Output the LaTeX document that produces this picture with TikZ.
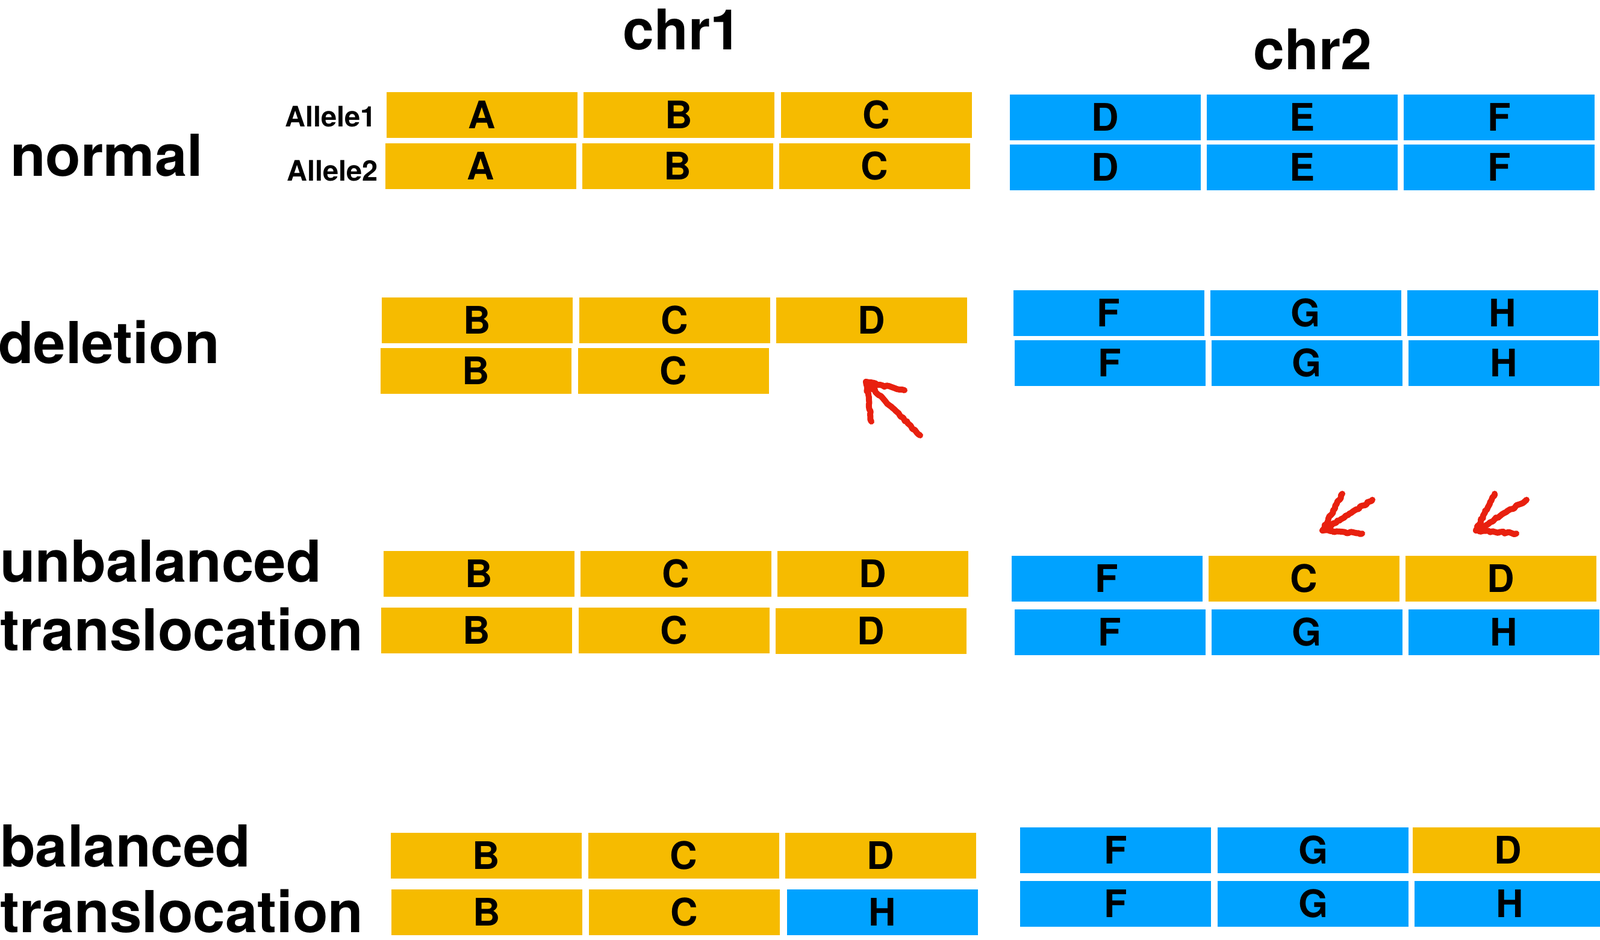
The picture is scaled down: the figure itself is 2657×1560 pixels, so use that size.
\documentclass[tikz,border=0pt]{standalone}
\usepackage{fontspec}
\setmainfont{TeX Gyre Heros}
\usetikzlibrary{decorations.pathmorphing}
\definecolor{chrY}{RGB}{246,187,0}
\definecolor{chrB}{RGB}{0,162,255}
\definecolor{mark}{RGB}{232,32,15}
\begin{document}
\begin{tikzpicture}[x=1pt,y=-1pt,
  seg/.style={minimum width=317pt,minimum height=76pt,inner sep=0pt,outer sep=0pt,
    font=\fontsize{63}{63}\selectfont\bfseries},
  yel/.style={seg,fill=chrY},
  blu/.style={seg,fill=chrB},
  rowlab/.style={anchor=base west,inner sep=0pt,font=\fontsize{96}{96}\selectfont\bfseries},
  chrlab/.style={anchor=base,inner sep=0pt,font=\fontsize{93}{93}\selectfont\bfseries},
  allab/.style={anchor=base east,inner sep=0pt,font=\fontsize{47}{47}\selectfont\bfseries},
  sketch/.style={draw=mark,line width=10pt,line cap=round,line join=round,
    decorate,decoration={random steps,segment length=4pt,amplitude=1.5pt}}]
\useasboundingbox (0,0) rectangle (2657,1560);
\clip (0,0) rectangle (2657,1560);

% headers
\node[chrlab] (chr1) at (1133,83) {chr1};
\node[chrlab] (chr2) at (2180,116) {chr2};

% row labels
\node[rowlab] (lnormal) at (17,292) {normal};
\node[rowlab] (ldel) at (-3,603) {deletion};
\node[rowlab] (lunb1) at (0,966) {unbalanced};
\node[rowlab] (lunb2) at (0,1080) {translocation};
\node[rowlab] (lbal1) at (0,1439) {balanced};
\node[rowlab] (lbal2) at (0,1548) {translocation};

\node[allab] (al1) at (625,210) {Allele1};
\node[allab] (al2) at (628,300) {Allele2};

% normal
\node[yel] (n1a) at (800.5,191) {A};
\node[yel] (n1b) at (1127.5,191) {B};
\node[yel] (n1c) at (1455,191) {C};
\node[yel] (n2a) at (798.5,276) {A};
\node[yel] (n2b) at (1125.5,276) {B};
\node[yel] (n2c) at (1452.5,276) {C};
\node[blu] (n1d) at (1835,195) {D};
\node[blu] (n1e) at (2162,195) {E};
\node[blu] (n1f) at (2489.5,195) {F};
\node[blu] (n2d) at (1835,278) {D};
\node[blu] (n2e) at (2162,278) {E};
\node[blu] (n2f) at (2489.5,278) {F};

% deletion
\node[yel] (d1b) at (792,532) {B};
\node[yel] (d1c) at (1120,532) {C};
\node[yel] (d1d) at (1447,532) {D};
\node[yel] (d2b) at (790.5,616) {B};
\node[yel] (d2c) at (1118,616) {C};
\node[blu] (d1f) at (1841,520) {F};
\node[blu] (d1g) at (2168,520) {G};
\node[blu] (d1h) at (2495,520) {H};
\node[blu] (d2f) at (1843,603) {F};
\node[blu] (d2g) at (2170,603) {G};
\node[blu] (d2h) at (2497,603) {H};

% unbalanced translocation
\node[yel] (u1b) at (795.5,953) {B};
\node[yel] (u1c) at (1122.5,953) {C};
\node[yel] (u1d) at (1449.5,953) {D};
\node[yel] (u2b) at (791.5,1047) {B};
\node[yel] (u2c) at (1119,1047) {C};
\node[yel] (u2d) at (1446.5,1048) {D};
\node[blu] (u1f) at (1838,961) {F};
\node[yel] (u1cc) at (2165,961) {C};
\node[yel] (u1dd) at (2492.5,961) {D};
\node[blu] (u2f) at (1843,1050) {F};
\node[blu] (u2g) at (2170,1050) {G};
\node[blu] (u2h) at (2497,1050) {H};

% balanced translocation
\node[yel] (b1b) at (807.5,1421) {B};
\node[yel] (b1c) at (1135,1421) {C};
\node[yel] (b1d) at (1462,1421) {D};
\node[yel] (b2b) at (808.5,1515) {B};
\node[yel] (b2c) at (1136,1515) {C};
\node[blu] (b2h) at (1465.5,1515) {H};
\node[blu] (b1f) at (1852.5,1412) {F};
\node[blu] (b1g) at (2180.5,1412) {G};
\node[yel] (b1dd) at (2504.5,1412) {D};
\node[blu] (b2f) at (1852.5,1501) {F};
\node[blu] (b2g) at (2180.5,1501) {G};
\node[blu] (b2hh) at (2507.5,1501) {H};

% red hand-drawn arrows
\coordinate (a1tip) at (1438,634);
\coordinate (a1tail) at (1528,723);
\coordinate (a1b1) at (1447,700);
\coordinate (a1b2) at (1502,648);
\draw[sketch] (a1tail) -- (a1tip);
\draw[sketch] (a1b1) -- (a1tip) -- (a1b2);

\coordinate (a2tip) at (2196,881);
\coordinate (a2tail) at (2279,830);
\coordinate (a2b1) at (2229,820);
\coordinate (a2b2) at (2262,886);
\draw[sketch] (a2tail) -- (a2tip);
\draw[sketch] (a2b1) -- (a2tip) -- (a2b2);

\coordinate (a3tip) at (2451,881);
\coordinate (a3tail) at (2535,830);
\coordinate (a3b1) at (2482,820);
\coordinate (a3b2) at (2518,886);
\draw[sketch] (a3tail) -- (a3tip);
\draw[sketch] (a3b1) -- (a3tip) -- (a3b2);
\end{tikzpicture}
\end{document}
